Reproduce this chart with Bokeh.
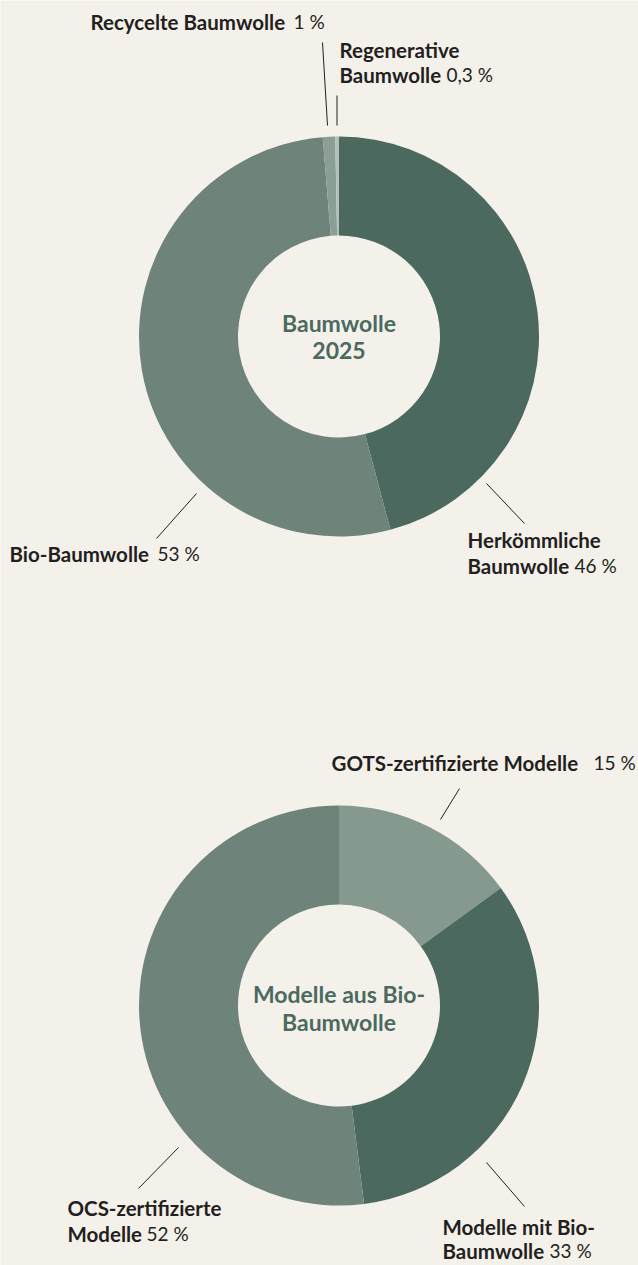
import math
from bokeh.plotting import figure
from bokeh.models import Range1d, ColumnDataSource
from bokeh.core.properties import value
from bokeh.embed import file_html
from bokeh.resources import INLINE

# ---------------- data ----------------
cotton_labels = ["Herkömmliche\nBaumwolle", "Bio-Baumwolle", "Recycelte Baumwolle", "Regenerative\nBaumwolle"]
cotton_values = [46, 53, 1, 0.3]
cotton_colors = ["#4b695e", "#6e847b", "#8c9f95", "#b3c1b9"]
cotton_title = ["Baumwolle", "2025"]

models_labels = ["GOTS-zertifizierte Modelle", "Modelle mit Bio-\nBaumwolle", "OCS-zertifizierte\nModelle"]
models_values = [15, 33, 52]
models_colors = ["#86998f", "#4b695e", "#6e847b"]
models_title = ["Modelle aus Bio-", "Baumwolle"]

# ---------------- layout ----------------
W, H = 638, 1265
BG = "#f4f1eb"
INK = "#231f20"
GREEN = "#4b695e"
R_OUT, R_IN = 200, 101
FONT = value("Lato")
FS_BOLD = "20.5px"
FS_PCT = "19px"
TEXT_SHIFT = -8


def Y(yimg):
    return H - yimg


def YT(yimg):
    return H - (yimg + TEXT_SHIFT)


p = figure(width=W, height=H, x_range=Range1d(0, W), y_range=Range1d(0, H),
           output_backend="svg", toolbar_location=None, min_border=0,
           background_fill_color=BG, border_fill_color=BG, outline_line_color=None)
p.axis.visible = False
p.grid.visible = False


def donut(cx, cy, values, colors):
    total = float(sum(values))
    starts, ends = [], []
    cum = 0.0
    for v in values:
        starts.append(math.pi / 2 - 2 * math.pi * cum / total)
        cum += v
        ends.append(math.pi / 2 - 2 * math.pi * cum / total)
    src = ColumnDataSource(dict(x=[cx] * len(values), y=[Y(cy)] * len(values),
                                s=starts, e=ends, c=colors))
    p.annular_wedge(x="x", y="y", inner_radius=R_IN, outer_radius=R_OUT,
                    start_angle="s", end_angle="e", direction="clock",
                    fill_color="c", line_color=None, source=src)


def pct(v):
    return f"{v:g}".replace(".", ",") + " %"


def labels(names, values, anchors):
    bx, by, bt, px, py, pt = [], [], [], [], [], []
    for name, v, (x, y, pxx, lh) in zip(names, values, anchors):
        lines = name.split("\n")
        for i, ln in enumerate(lines):
            bx.append(x)
            by.append(YT(y + i * lh))
            bt.append(ln)
        px.append(pxx)
        py.append(YT(y + (len(lines) - 1) * lh))
        pt.append(pct(v))
    p.text(x=bx, y=by, text=bt, text_font=FONT, text_font_style="bold",
           text_font_size=FS_BOLD, text_color=INK, text_align="left",
           text_baseline="alphabetic")
    p.text(x=px, y=py, text=pt, text_font=FONT, text_font_style="normal",
           text_font_size=FS_PCT, text_color=INK, text_align="left",
           text_baseline="alphabetic")


def leaders(segs):
    p.segment(x0=[s[0] for s in segs], y0=[Y(s[1]) for s in segs],
              x1=[s[2] for s in segs], y1=[Y(s[3]) for s in segs],
              line_color=INK, line_width=1)


def title(cx, lines, y0):
    p.text(x=[cx] * len(lines), y=[YT(y0 + i * 28) for i in range(len(lines))],
           text=lines, text_font=FONT, text_font_style="bold",
           text_font_size="23px", text_color=GREEN, text_align="center",
           text_baseline="alphabetic")


# Donut 1
donut(338.5, 336, cotton_values, cotton_colors)
title(338.5, cotton_title, 330)
labels(cotton_labels, cotton_values,
       [(467, 547, 574, 26), (9, 561, 157, 26), (90, 29, 293, 26), (339, 57, 446, 25)])
leaders([(486, 483, 524, 523), (196, 493, 156, 538),
         (322, 42, 327, 125), (336.5, 95, 336.5, 125)])

# Donut 2
donut(338.5, 1005, models_values, models_colors)
title(338.5, models_title, 1001)
labels(models_labels, models_values,
       [(331, 770, 593, 26), (442, 1234, 549, 24), (67, 1215, 146, 26)])
leaders([(459, 788, 440, 819), (486, 1162, 524, 1206), (178, 1147, 138, 1188)])

html = file_html(p, INLINE)
html = html.replace("<body>", '<body style="margin:0;background:%s;overflow:hidden;">' % BG, 1)
open("out.html", "w").write(html)
